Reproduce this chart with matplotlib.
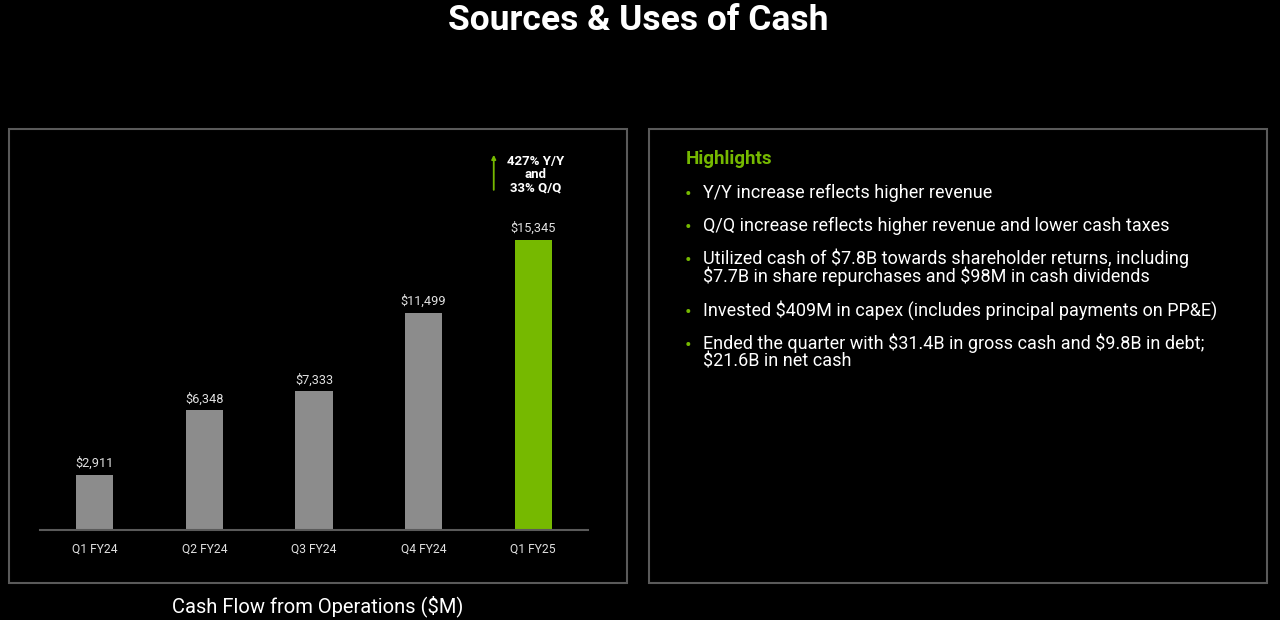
'''Sources & Uses of Cash - cash flow from operations by quarter'''
import matplotlib
matplotlib.use('Agg')
import matplotlib.pyplot as plt
from matplotlib.patches import Rectangle
from matplotlib import rcParams
rcParams.update({'font.family': ['Roboto', 'DejaVu Sans'], 'font.size': 9,
                 'text.parse_math': False})

# data
quarters = ['Q1 FY24', 'Q2 FY24', 'Q3 FY24', 'Q4 FY24', 'Q1 FY25']
cash_flow = [2911, 6348, 7333, 11499, 15345]
growth_note = '427% Y/Y\nand\n33% Q/Q'
highlights = [
    ['Y/Y increase reflects higher revenue'],
    ['Q/Q increase reflects higher revenue and lower cash taxes'],
    ['Utilized cash of $7.8B towards shareholder returns, including',
     '$7.7B in share repurchases and $98M in cash dividends'],
    ['Invested $409M in capex (includes principal payments on PP&E)'],
    ['Ended the quarter with $31.4B in gross cash and $9.8B in debt;',
     '$21.6B in net cash'],
]

W, H = 1280, 620
green = '#76b900'
grey = '#8c8c8c'
edge = '#5a5a5a'

def px(x, y):
    # pixel position (from top-left) -> figure fraction
    return x / W, 1 - y / H

fig = plt.figure(figsize=(12.8, 6.2), dpi=100, facecolor='black')

# panel frames
for x0 in [9, 649]:
    fig.patches.append(Rectangle(px(x0, 583), 618 / W, 454 / H, transform=fig.transFigure,
                                 fill=False, edgecolor=edge, linewidth=1.5))

# title
fig.text(*px(638, 20), 'Sources & Uses of Cash', ha='center', va='center',
         color='white', fontsize=25.5, fontweight='bold')

# bar chart
ax = fig.add_axes([40 / W, 1 - 530 / H, 548 / W, 378 / H], facecolor='black')
x = list(range(len(quarters)))
cos = [grey] * (len(quarters) - 1) + [green]
ax.bar(x, cash_flow, width=0.34, color=cos, zorder=2)
for i, v in enumerate(cash_flow):
    ax.text(i, v + 250, '$' + format(v, ','), ha='center', va='bottom',
            color='#e0e0e0', fontsize=9.2)

ax.set_xlim(-0.5, 4.5)
ax.set_ylim(0, 20000)
ax.set_xticks(x)
ax.set_xticklabels(quarters, color='#e0e0e0', fontsize=8.7)
ax.tick_params(axis='x', length=0, pad=9)
ax.set_yticks([])
for s in ['top', 'right', 'left']:
    ax.spines[s].set_visible(False)
ax.spines['bottom'].set_color(edge)
ax.spines['bottom'].set_linewidth(1.5)

# growth note with arrow
ax.annotate('', xy=(3.64, 20000), xytext=(3.64, 17850),
            arrowprops=dict(arrowstyle='-|>', color=green, lw=1.3, mutation_scale=6),
            annotation_clip=False)
ax.text(4.02, 18800, growth_note, ha='center', va='center', color='white',
        fontsize=9.5, fontweight='bold', linespacing=1.0)

fig.text(*px(318, 606), 'Cash Flow from Operations ($M)', ha='center', va='center',
         color='white', fontsize=14.5)

# highlights
fig.text(*px(686, 159), 'Highlights', ha='left', va='center', color=green,
         fontsize=13.5, fontweight='bold')
y_pos = [192, 225, 258, 310, 343]
for yy, lines in zip(y_pos, highlights):
    fig.text(*px(688, yy + 3), '•', ha='center', va='center', color=green, fontsize=14)
    for k, t in enumerate(lines):
        fig.text(*px(703, yy + 6 + 18 * k), t, ha='left', va='baseline', color='white',
                 fontsize=13)

fig.savefig('out.png', dpi=100, facecolor='black')
